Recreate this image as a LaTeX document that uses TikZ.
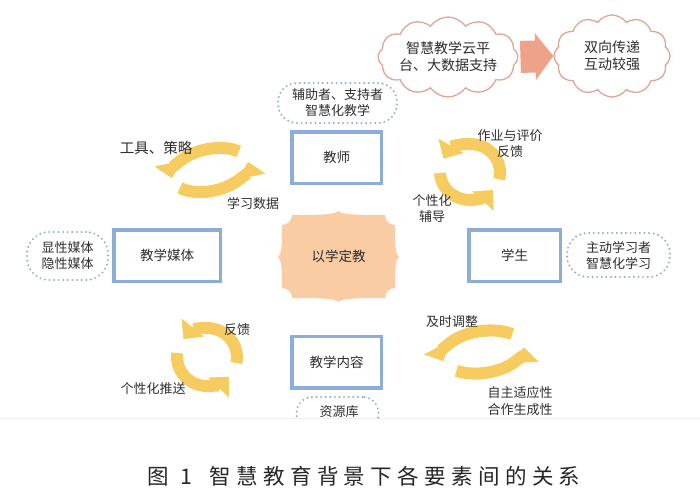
\documentclass[tikz,border=0pt]{standalone}
\usepackage{fontspec}
\setmainfont{Noto Sans CJK SC}
\usetikzlibrary{shapes.geometric,shapes.symbols,arrows.meta}
\definecolor{boxblue}{RGB}{140,174,214}
\definecolor{cycy}{RGB}{246,203,96}
\definecolor{peach}{RGB}{250,204,164}
\definecolor{cloudc}{RGB}{226,164,152}
\definecolor{arrowc}{RGB}{238,162,138}
\definecolor{dotc}{RGB}{150,172,188}
\definecolor{txt}{RGB}{45,45,45}
\begin{document}
\begin{tikzpicture}[x=1pt,y=-1pt,
  every node/.style={text=txt},
  lbl/.style={font=\fontsize{13}{16.5}\selectfont, align=center, inner sep=0},
  mainbox/.style={draw=boxblue, line width=3.5pt, fill=white, minimum height=51.5pt, font=\fontsize{13.5}{16}\selectfont},
  dotell/.style={rectangle, rounded corners=#1, draw=dotc, line width=2.2pt, dash pattern=on 0pt off 4.6pt, line cap=round, align=center, inner sep=0, font=\fontsize{13}{16}\selectfont},
  dotell/.default=18pt,
  cloudn/.style={cloud, cloud puffs=12, cloud puff arc=110, cloud ignores aspect, draw=cloudc, line width=1.3pt, fill=white, align=center, inner sep=0, font=\fontsize{14}{17}\selectfont},
  cyc/.style={draw=cycy, line width=12pt, -{Triangle[width=28pt,length=15pt]}},
  bigarr/.style={draw=arrowc, line width=32pt, -{Triangle[width=46pt,length=18pt]}}
]
\useasboundingbox (0,0) rectangle (700,503);
\draw[gray!12, line width=1pt] (0,418.5) -- (700,418.5);

% clouds and big arrow
\node[cloudn, minimum width=123pt, minimum height=80pt] (cl1) at (448,57) {智慧教学云平\\台、大数据支持};
\node[cloudn, minimum width=116pt, minimum height=82pt] (cl2) at (612,56) {双向传递\\互动较强};
\draw[bigarr, shorten <=2pt] (cl1.east) -- (cl2.west);

% main boxes
\node[mainbox, minimum width=89.5pt] (teacher) at (336.5,157.5) {教师};
\node[mainbox, minimum width=106.5pt] (media) at (167,255.5) {教学媒体};
\node[mainbox, minimum width=91.5pt] (student) at (514.5,255.5) {学生};
\node[mainbox, minimum width=89.5pt] (content) at (336.5,362) {教学内容};

% dotted descriptors
\node[dotell=19pt, minimum width=119pt, minimum height=40pt] (tdesc) at (337.5,103) {辅助者、支持者\\智慧化教学};
\node[dotell=22pt, minimum width=81pt, minimum height=48pt] (mdesc) at (67.5,256) {显性媒体\\隐性媒体};
\node[dotell=21pt, minimum width=103pt, minimum height=44pt] (sdesc) at (618.5,255) {主动学习者\\智慧化学习};
\begin{scope}
\clip (0,0) rectangle (700,418);
\node[dotell=16pt, minimum width=82pt, minimum height=34pt] (cdesc) at (337.5,414) {};
\end{scope}
\node[lbl] (cdesct) at (339,412) {资源库};

% central shape
\fill[peach] (292,215) .. controls (322,215) and (335,214.5) .. (338.5,211)
  .. controls (342,214.5) and (355,215) .. (385,215)
  arc[start angle=180, end angle=90, radius=10]
  .. controls (395,247) and (395.5,254) .. (399,257)
  .. controls (395.5,260) and (395,267) .. (395,288)
  arc[start angle=270, end angle=180, radius=10]
  .. controls (355,298) and (342,298.5) .. (338.5,302)
  .. controls (335,298.5) and (322,298) .. (292,298)
  arc[start angle=360, end angle=270, radius=10]
  .. controls (282,267) and (281.5,260) .. (278,257)
  .. controls (281.5,254) and (282,247) .. (282,225)
  arc[start angle=90, end angle=0, radius=10] -- cycle;
\node[font=\fontsize{13.5}{16}\selectfont] (core) at (338.5,256) {以学定教};

% cycle arrows: top-left
\begin{scope}[shift={(210,170)}, rotate=12]
\draw[cyc] (-35:39 and 21) arc[start angle=-35, end angle=-180, x radius=39, y radius=21];
\draw[cyc] (-212:39 and 21) arc[start angle=-212, end angle=-360, x radius=39, y radius=21];
\end{scope}
% top-right
\begin{scope}[shift={(470,172)}]
\draw[cyc] (15:30 and 28) arc[start angle=15, end angle=-152, x radius=30, y radius=28];
\draw[cyc] (-182:30 and 28) arc[start angle=-182, end angle=-320, x radius=30, y radius=28];
\end{scope}
% bottom-left
\begin{scope}[shift={(207,357)}]
\draw[cyc] (12:30 and 29) arc[start angle=12, end angle=-142, x radius=30, y radius=29];
\draw[cyc] (-172:30 and 29) arc[start angle=-172, end angle=-317, x radius=30, y radius=29];
\end{scope}
% bottom-right
\begin{scope}[shift={(483,352)}, rotate=8]
\draw[cyc] (-40:41 and 21) arc[start angle=-40, end angle=-190, x radius=41, y radius=21];
\draw[cyc] (-225:41 and 21) arc[start angle=-225, end angle=-357, x radius=41, y radius=21];
\end{scope}

% labels
\node[lbl, font=\fontsize{14.5}{17}\selectfont] (l1) at (156,148) {工具、策略};
\node[lbl] (l2) at (253,204) {学习数据};
\node[lbl] (l3) at (510,143.5) {作业与评价\\反馈};
\node[lbl] (l4) at (432,208.5) {个性化\\辅导};
\node[lbl] (l5) at (237,330) {反馈};
\node[lbl] (l6) at (153,389) {个性化推送};
\node[lbl] (l7) at (452,322) {及时调整};
\node[lbl] (l8) at (520,401) {自主适应性\\合作生成性};

% caption
\node[anchor=west, inner sep=0, text=black!85, font=\fontsize{21.5}{24}\selectfont] (cap) at (147,476)
  {图\hspace{12pt}1\hspace{17pt}{\addfontfeature{LetterSpace=25}智慧教育背景下各要素间的关系}};
\end{tikzpicture}
\end{document}
